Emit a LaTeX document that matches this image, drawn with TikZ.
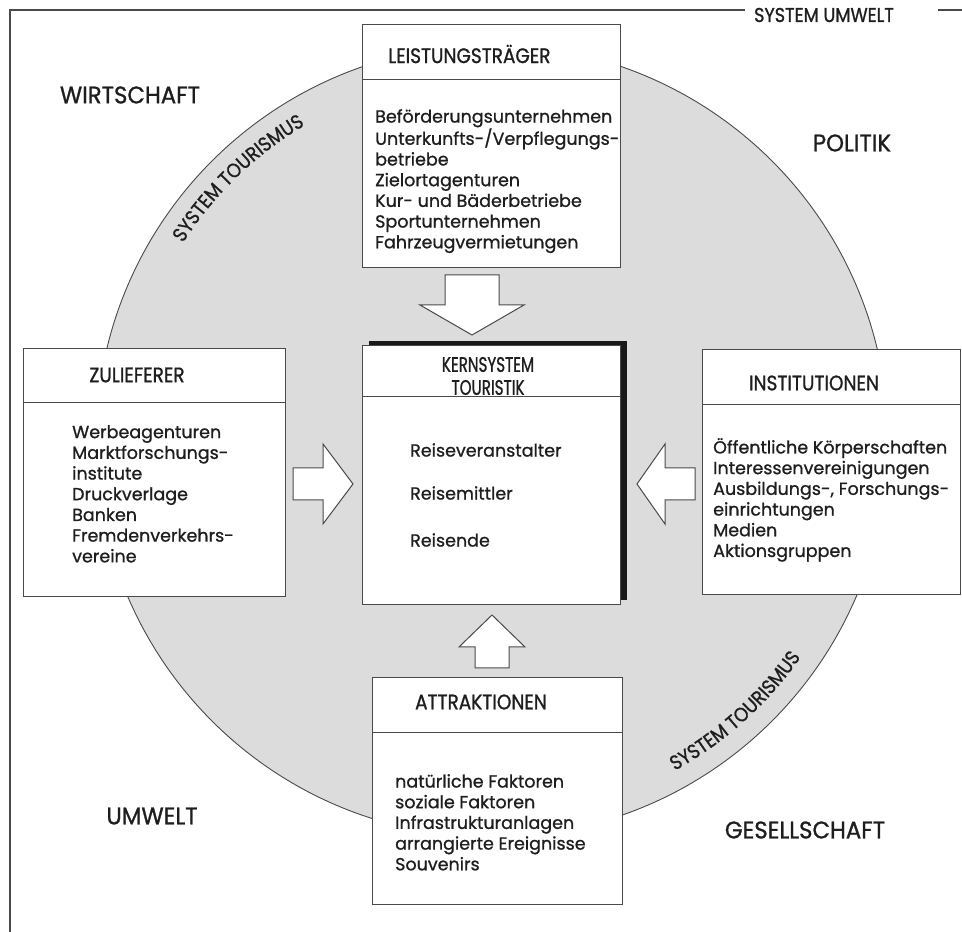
\documentclass[tikz,border=0pt]{standalone}
\usepackage{fontspec}
\setmainfont{Poppins}
\newfontfamily\hdfont[FakeStretch=0.88,FakeBold=1]{Poppins}
\newfontfamily\kfont[FakeStretch=0.72,FakeBold=1]{Poppins}
\newfontfamily\lbfont[FakeStretch=0.95,FakeBold=1]{Poppins}
\newfontfamily\arcfont[FakeStretch=0.9,FakeBold=1]{Poppins}
\newfontfamily\bdfont[FakeStretch=1.0,FakeBold=0.9]{Poppins}
\usetikzlibrary{decorations.text}
\definecolor{fillgray}{HTML}{DCDCDC}
\definecolor{linegray}{HTML}{4A4A4A}
\definecolor{ink}{HTML}{1E1E1E}
\begin{document}
\begin{tikzpicture}[x=1pt,y=1pt,
  boxline/.style={draw=linegray,line width=1pt},
  whitebox/.style={boxline,fill=white},
  hdtext/.style={inner sep=0pt,font=\hdfont\fontsize{21}{24}\selectfont,text=ink},
  bdtext/.style={inner sep=0pt,anchor=north west,align=left,font=\bdfont\fontsize{17.5}{20.7}\selectfont,text=ink},
  lbltext/.style={inner sep=0pt,font=\lbfont\fontsize{24}{27}\selectfont,text=ink},
  blockarrow/.style={draw=linegray,line width=1pt,fill=white,line join=miter}]
\useasboundingbox (0,0) rectangle (962,932);
% frame
\draw[linegray,line width=1.2pt] (10,0) -- (10,922) -- (745,922);
\draw[linegray,line width=1.2pt] (938,922) -- (962,922);
\node[inner sep=0pt,text=ink,font=\hdfont\fontsize{20}{22}\selectfont] (sysumwelt) at (824,917) {SYSTEM UMWELT};
% circle
\coordinate (c) at (492,491);
\draw[draw=linegray,line width=0.9pt,fill=fillgray] (c) circle[radius=396];
% labels
\node[lbltext] (wirt) at (130,837) {WIRTSCHAFT};
\node[lbltext] (pol) at (852,789) {POLITIK};
\node[lbltext] (umw) at (152,116) {UMWELT};
\node[lbltext] (ges) at (805,102) {GESELLSCHAFT};
% system tourismus arcs
\path[decorate,decoration={text along path,text align=center,
  text={|\arcfont\fontsize{20}{22}\selectfont\color{ink}|SYSTEM TOURISMUS}}]
  (c) ++(152:367) arc[start angle=152,end angle=116,radius=367];
\path[decorate,decoration={text along path,text align=center,
  text={|\arcfont\fontsize{20}{22}\selectfont\color{ink}|SYSTEM TOURISMUS}}]
  (c) ++(-65:377) arc[start angle=-65,end angle=-31,radius=377];
% Leistungstraeger
\draw[whitebox] (362,664) rectangle (620,907);
\draw[boxline] (362,852) -- (620,852);
\node[hdtext,anchor=west] (lt) at (388,878) {LEISTUNGSTRÄGER};
\node[bdtext] (ltb) at (375,823) {Beförderungsunternehmen\\Unterkunfts-/Verpflegungs-\\betriebe\\Zielortagenturen\\Kur- und Bäderbetriebe\\Sportunternehmen\\Fahrzeugvermietungen};
% Kernsystem
\fill[black!90] (369,332) rectangle (627,591);
\draw[whitebox] (362,327) rectangle (620,586);
\draw[boxline] (362,535) -- (620,535);
\node[hdtext,align=center,font=\kfont\fontsize{21}{23}\selectfont] (ks) at (488,556) {KERNSYSTEM\\TOURISTIK};
\node[bdtext,anchor=west] (k1) at (410,482) {Reiseveranstalter};
\node[bdtext,anchor=west] (k2) at (410,439) {Reisemittler};
\node[bdtext,anchor=west] (k3) at (410,392) {Reisende};
% Zulieferer
\draw[whitebox] (23,335) rectangle (285,583);
\draw[boxline] (23,529) -- (285,529);
\node[hdtext] (zl) at (137,557) {ZULIEFERER};
\node[bdtext] (zlb) at (72,507) {Werbeagenturen\\Marktforschungs-\\institute\\Druckverlage\\Banken\\Fremdenverkehrs-\\vereine};
% Institutionen
\draw[whitebox] (702,337) rectangle (960,582);
\draw[boxline] (702,527) -- (960,527);
\node[hdtext] (in) at (814,549) {INSTITUTIONEN};
\node[bdtext] (inb) at (713,494) {Öffentliche Körperschaften\\Interessenvereinigungen\\Ausbildungs-, Forschungs-\\einrichtungen\\Medien\\Aktionsgruppen};
% Attraktionen
\draw[whitebox] (372,27) rectangle (622,254);
\draw[boxline] (372,199) -- (622,199);
\node[hdtext] (at) at (481,230) {ATTRAKTIONEN};
\node[bdtext] (atb) at (395,158) {natürliche Faktoren\\soziale Faktoren\\Infrastrukturanlagen\\arrangierte Ereignisse\\Souvenirs};
% block arrows
\draw[blockarrow] (445,657) -- (499,657) -- (499,627) -- (524,627) -- (472,597) -- (420,627) -- (445,627) -- cycle;
\draw[blockarrow] (475,264) -- (509,264) -- (509,285) -- (525,285) -- (492,317) -- (459,285) -- (475,285) -- cycle;
\draw[blockarrow] (293,432) -- (323,432) -- (323,408) -- (353,448) -- (323,488) -- (323,464) -- (293,464) -- cycle;
\draw[blockarrow] (695,432) -- (665,432) -- (665,408) -- (637,448) -- (665,488) -- (665,464) -- (695,464) -- cycle;
\end{tikzpicture}
\end{document}
